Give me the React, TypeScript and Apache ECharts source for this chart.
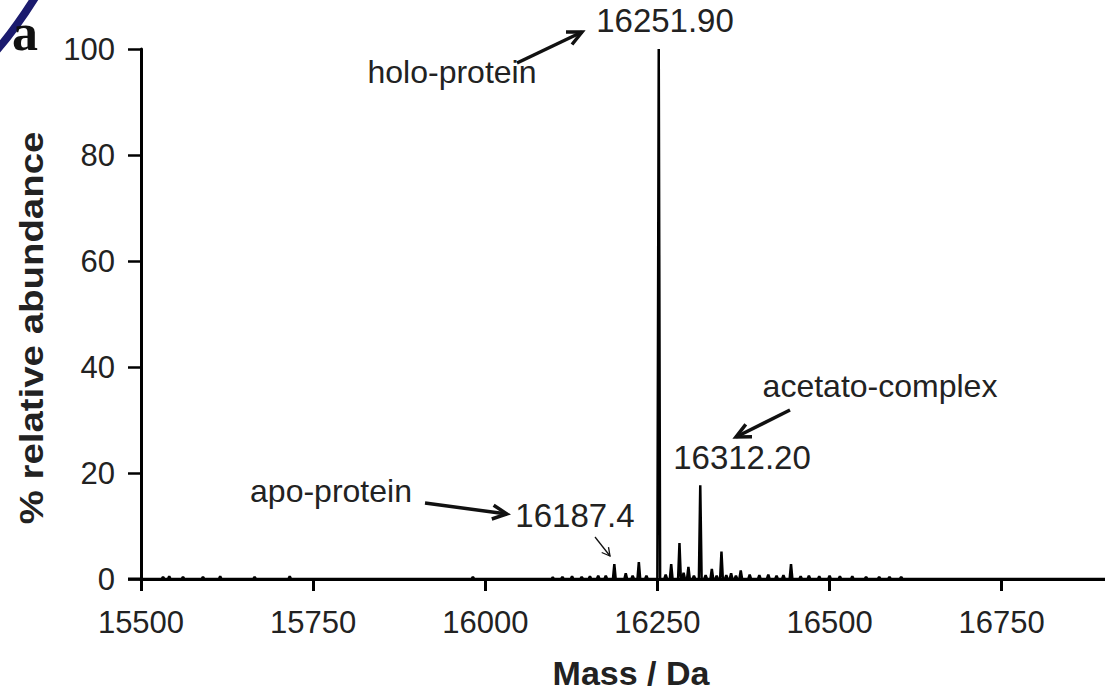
import React, { useEffect, useRef } from "react";
import * as echarts from "echarts";

// Peak list (mass in Da, % relative abundance)
const peakMasses = [
  15532, 15541, 15561, 15590, 15615, 15665, 15716, 15982, 16098, 16112, 16126,
  16140, 16152, 16164, 16175, 16187.4, 16204, 16214, 16223, 16234, 16251.9,
  16262, 16270, 16282, 16288, 16295, 16303, 16312.2, 16320, 16329, 16336,
  16343, 16350, 16357, 16364, 16371, 16384, 16398, 16411, 16423, 16433, 16444,
  16458, 16470, 16485, 16500, 16515, 16533, 16553, 16572, 16587, 16604,
];
const peakHeights = [
  0.4, 0.5, 0.4, 0.4, 0.5, 0.4, 0.5, 0.4, 0.3, 0.4, 0.5,
  0.4, 0.5, 0.6, 0.6, 2.8, 1.1, 0.6, 3.2, 0.6, 100,
  0.8, 2.8, 6.8, 1.2, 2.3, 0.6, 17.7, 0.7, 1.9, 0.6,
  5.2, 0.7, 1.1, 0.6, 1.6, 0.8, 0.7, 0.8, 0.6, 0.7, 2.8,
  0.5, 0.6, 0.5, 0.6, 0.5, 0.5, 0.4, 0.4, 0.4, 0.4,
];
const xRange = [15500, 16900];
const xInterval = 250;
const yRange = [0, 100];
const yInterval = 20;

const xTitle = "Mass / Da";
const yTitle = "% relative abundance";
const panelLetter = "a";
const peakLabels = ["16251.90", "16312.20", "16187.4"];
const speciesLabels = ["holo-protein", "acetato-complex", "apo-protein"];

const SANS = '"Liberation Sans", Arial, Helvetica, sans-serif';
const TXT = "#222";

function arrow(x1: number, y1: number, x2: number, y2: number, lw: number, head: number, ang = 0.45) {
  const a = Math.atan2(y2 - y1, x2 - x1);
  const p1 = [x2 - head * Math.cos(a - ang), y2 - head * Math.sin(a - ang)];
  const p2 = [x2 - head * Math.cos(a + ang), y2 - head * Math.sin(a + ang)];
  return [
    { type: "line", silent: true, shape: { x1, y1, x2, y2 }, style: { stroke: "#111", lineWidth: lw } },
    {
      type: "polyline",
      silent: true,
      shape: { points: [p1, [x2, y2], p2] },
      style: { stroke: "#111", lineWidth: lw, fill: null, lineJoin: "miter" },
    },
  ];
}

function txt(text: string, x: number, y: number, size: number, extra: any = {}) {
  const { bold, ...rest } = extra;
  return {
    type: "text",
    silent: true,
    x,
    y,
    ...rest,
    style: {
      text,
      fill: TXT,
      fontSize: size,
      fontFamily: SANS,
      fontWeight: bold ? "bold" : "normal",
      align: "center",
      verticalAlign: "middle",
      textAlign: "center",
      textVerticalAlign: "middle",
    },
  };
}

export default function App() {
  const ref = useRef<HTMLDivElement>(null);
  useEffect(() => {
    if (!ref.current) return;
    const chart = echarts.init(ref.current, null, { renderer: "svg" });
    const w = 2;
    const data: number[][] = [[xRange[0], 0]];
    peakMasses.forEach((m, i) => {
      data.push([m - w, 0], [m, peakHeights[i]], [m + w, 0]);
    });
    data.push([xRange[1], 0]);

    const graphics: any[] = [
      {
        type: "bezierCurve",
        silent: true,
        shape: { x1: -3, y1: 50, x2: 36, y2: -4, cpx1: 16, cpy1: 28 },
        style: { stroke: "#1b1b6e", lineWidth: 8, fill: null },
      },
      {
        type: "text",
        silent: true,
        x: 25,
        y: 32,
        style: {
          text: panelLetter,
          fill: "#111",
          fontSize: 52,
          fontWeight: "bold",
          fontFamily: '"Liberation Serif", "Times New Roman", serif',
          align: "center",
          verticalAlign: "middle",
          textAlign: "center",
          textVerticalAlign: "middle",
        },
      },
      txt(peakLabels[0], 665, 20, 33),
      txt(speciesLabels[0], 452, 72, 32),
      ...arrow(517, 63, 582, 32, 3.5, 16),
      txt(peakLabels[1], 742, 457, 33),
      txt(speciesLabels[1], 880, 386, 32),
      ...arrow(790, 410, 736, 437, 3.5, 16),
      txt(peakLabels[2], 575, 515, 33),
      txt(speciesLabels[2], 331, 491, 32),
      ...arrow(425, 503, 507, 514, 3.5, 16),
      ...arrow(595, 537, 610, 556, 1.3, 9, 0.5),
      txt(xTitle, 631, 673, 34, { bold: true }),
      txt(yTitle, 31, 328, 34, { bold: true, rotation: Math.PI / 2, scaleX: 1.13 }),
      {
        type: "line",
        silent: true,
        shape: { x1: 128, y1: 579, x2: 141, y2: 579 },
        style: { stroke: "#000", lineWidth: 3 },
      },
    ];

    chart.setOption({
      animation: false,
      grid: { left: 141, right: 0, top: 49, bottom: 114 },
      xAxis: {
        type: "value",
        min: xRange[0],
        max: xRange[1],
        interval: xInterval,
        axisLine: { show: true, lineStyle: { color: "#000", width: 3 } },
        axisTick: { show: true, length: 12, lineStyle: { color: "#000", width: 3 } },
        axisLabel: {
          fontSize: 31,
          color: TXT,
          fontFamily: SANS,
          margin: 28,
          showMaxLabel: false,
          formatter: (v: number) => (v % xInterval === 0 ? String(v) : ""),
        },
        splitLine: { show: false },
      },
      yAxis: {
        type: "value",
        min: yRange[0],
        max: yRange[1],
        interval: yInterval,
        axisLine: { show: true, lineStyle: { color: "#000", width: 3 } },
        axisTick: { show: true, length: 13, lineStyle: { color: "#000", width: 2.5 } },
        axisLabel: { fontSize: 31, color: TXT, fontFamily: SANS, margin: 26 },
        splitLine: { show: false },
      },
      series: [
        {
          type: "line",
          data,
          showSymbol: false,
          symbol: "none",
          clip: true,
          lineStyle: { color: "#000", width: 2.5 },
          z: 3,
        },
      ],
      graphic: graphics,
    });
    return () => chart.dispose();
  }, []);
  return (
    <div
      ref={ref}
      style={{ position: "absolute", left: 0, top: 0, width: 1105, height: 693, background: "#fff" }}
    />
  );
}
